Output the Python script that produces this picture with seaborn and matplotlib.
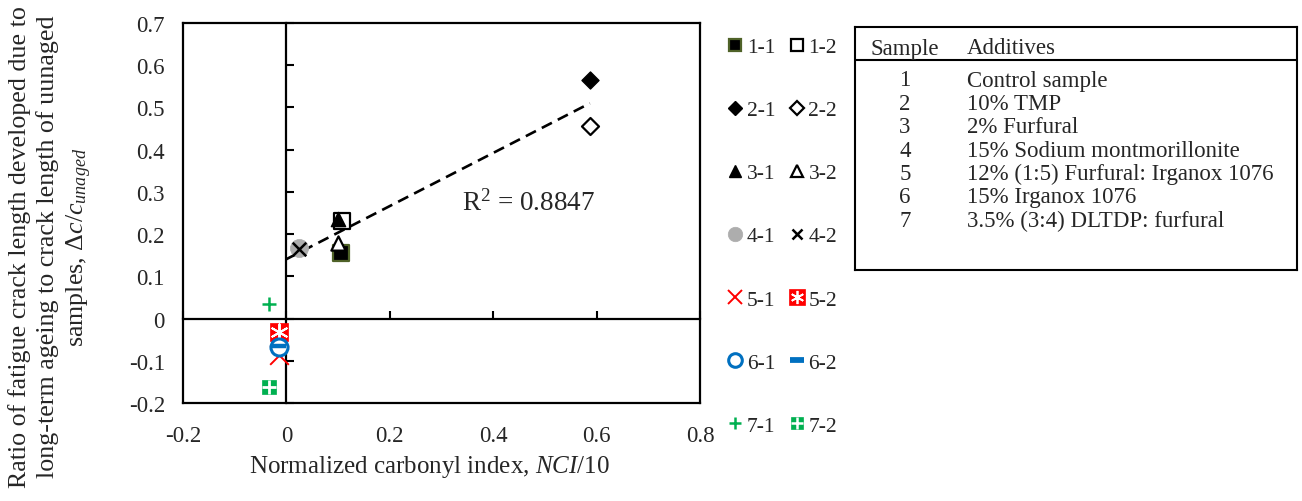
import numpy as np
import pandas as pd
import matplotlib
matplotlib.use("Agg")
import matplotlib.pyplot as plt
from matplotlib.lines import Line2D
from matplotlib.legend_handler import HandlerTuple
import seaborn as sns

# ---- data -------------------------------------------------------------
series = ["1-1", "2-1", "3-1", "4-1", "5-1", "6-1", "7-1",
          "1-2", "2-2", "3-2", "4-2", "5-2", "6-2", "7-2"]
nci = [0.106, 0.587, 0.099, 0.025, -0.015, -0.015, -0.033,
       0.108, 0.587, 0.100, 0.025, -0.015, -0.015, -0.033]
crack_ratio = [0.155, 0.566, 0.236, 0.167, -0.087, -0.068, 0.035,
               0.231, 0.457, 0.178, 0.165, -0.031, -0.064, -0.163]
r2_text = "R$^2$ = 0.8847"

sample_ids = ["1", "2", "3", "4", "5", "6", "7"]
additives = ["Control sample", "10% TMP", "2% Furfural",
             "15% Sodium montmorillonite",
             "12% (1:5) Furfural: Irganox 1076",
             "15% Irganox 1076", "3.5% (3:4) DLTDP: furfural"]

x_ticks = [-0.2, 0.0, 0.2, 0.4, 0.6, 0.8]
x_tick_labels = ["-0.2", "0", "0.2", "0.4", "0.6", "0.8"]
y_ticks = [-0.2, -0.1, 0.0, 0.1, 0.2, 0.3, 0.4, 0.5, 0.6, 0.7]
y_tick_labels = ["-0.2", "-0.1", "0", "0.1", "0.2", "0.3", "0.4",
                 "0.5", "0.6", "0.7"]

# ---- marker styles per series ----------------------------------------
BLACK, OLIVE, GREY = "black", "#4F6228", "#ADADAD"
RED, BLUE, GREEN = "#FF0000", "#0070C0", "#00B050"
styles = {
    "1-1": dict(marker="s", s=117, fc=BLACK, ec=OLIVE, lw=1.6),
    "1-2": dict(marker="s", s=117, fc="white", ec=BLACK, lw=1.6),
    "2-1": dict(marker="D", s=75, fc=BLACK, ec=BLACK, lw=1.0),
    "2-2": dict(marker="D", s=75, fc="white", ec=BLACK, lw=1.6),
    "3-1": dict(marker="^", s=105, fc=BLACK, ec=BLACK, lw=1.0),
    "3-2": dict(marker="^", s=105, fc="white", ec=BLACK, lw=1.6),
    "4-1": dict(marker="o", s=170, fc=GREY, ec=GREY, lw=0.5),
    "4-2": dict(marker="x", s=95, fc=BLACK, ec=None, lw=1.8),
    "5-1": dict(marker="x", s=180, fc=RED, ec=None, lw=1.4),
    "5-2": dict(marker="s", s=185, fc=RED, ec=RED, lw=0.5,
                over=dict(marker=(6, 2, 0), s=140, c="white", lw=1.4)),
    "6-1": dict(marker="o", s=150, fc="white", ec=BLUE, lw=2.2),
    "6-2": dict(marker="_", s=90, fc=BLUE, ec=None, lw=3.2),
    "7-1": dict(marker="+", s=115, fc=GREEN, ec=None, lw=1.8),
    "7-2": dict(marker="s", s=112, fc=GREEN, ec=GREEN, lw=0.5,
                over=dict(marker="+", s=100, c="white", lw=2.0)),
}
draw_order = ["1-1", "1-2", "2-1", "2-2", "3-1", "3-2", "4-1", "4-2",
              "5-1", "5-2", "6-1", "6-2", "7-1", "7-2"]

# ---- theme / fonts ----------------------------------------------------
sns.set_style("white")
plt.rcParams["font.family"] = ["Liberation Serif", "DejaVu Serif"]
plt.rcParams["mathtext.fontset"] = "custom"
plt.rcParams["mathtext.rm"] = "Liberation Serif"
plt.rcParams["mathtext.it"] = "Liberation Serif:italic"
plt.rcParams["axes.unicode_minus"] = False
FS_TICK = 16.5
FS_LEG = 15.5
FS_TAB = 16.5
FS_XLAB = 18
FS_YLAB = 18.7
FS_R2 = 19.5

df = pd.DataFrame({"series": series, "nci": nci, "ratio": crack_ratio})

W, H = 1302, 502
fig = plt.figure(figsize=(W / 100, H / 100), dpi=100)
ax = fig.add_axes([183 / W, 1 - 404 / H, 517 / W, 380 / H])

# scatter points
for z, name in enumerate(draw_order):
    st = styles[name]
    row = df[df.series == name]
    kw = dict(x=row.nci.values, y=row.ratio.values, ax=ax, marker=st["marker"],
              s=st["s"], linewidth=st["lw"], zorder=5 + z, legend=False)
    if st["ec"] is None:
        sns.scatterplot(color=st["fc"], **kw)
    else:
        sns.scatterplot(color=st["fc"], edgecolor=st["ec"], **kw)
    if "over" in st:
        ov = st["over"]
        sns.scatterplot(x=row.nci.values, y=row.ratio.values, ax=ax,
                        marker=ov["marker"], s=ov["s"], color=ov["c"],
                        linewidth=ov["lw"], zorder=5 + z + 0.5, legend=False)

# linear trend over the aged samples with positive NCI
pos = df[df.nci > 0]
slope, intercept = np.polyfit(pos.nci, pos.ratio, 1)
fit_x = np.array([0.0, pos.nci.max()])
sns.lineplot(x=fit_x, y=slope * fit_x + intercept, ax=ax, color="black",
             linewidth=1.9, zorder=4)
ax.lines[-1].set_dashes((4.3, 2.5))
ax.text(0.34, 0.276, r2_text, fontsize=FS_R2, va="center", ha="left")

# axes box and limits
ax.set_xlim(-0.2, 0.8)
ax.set_ylim(-0.2, 0.7)
for sp in ax.spines.values():
    sp.set_color("black")
    sp.set_linewidth(1.6)
ax.set_xticks(x_ticks)
ax.set_xticklabels(x_tick_labels, fontsize=FS_TICK)
ax.set_yticks(y_ticks)
ax.set_yticklabels(y_tick_labels, fontsize=FS_TICK)
ax.tick_params(axis="x", length=0, pad=16)
ax.tick_params(axis="y", length=0, pad=13)

# axes crossing at zero, with inward tick marks
sec_y = ax.secondary_yaxis(0.2 / 1.0)
sec_y.set_yticks(y_ticks)
sec_y.tick_params(direction="in", length=6, width=1.5, labelleft=False,
                  color="black")
sec_y.spines["left"].set_linewidth(1.6)
sec_y.spines["left"].set_color("black")
sec_x = ax.secondary_xaxis(0.2 / 0.9)
sec_x.set_xticks(x_ticks)
sec_x.tick_params(direction="in", length=6, width=1.5, labelbottom=False,
                  color="black")
sec_x.spines["bottom"].set_linewidth(1.6)
sec_x.spines["bottom"].set_color("black")

# axis titles
fig.text(429 / W, 1 - 467 / H, r"Normalized carbonyl index, $\mathit{NCI}$/10",
         fontsize=FS_XLAB, ha="center", va="center")
fig.text(51 / W, 1 - 247 / H,
         "Ratio of fatigue crack length developed due to\n"
         "long-term ageing to crack length of uunaged\n"
         r"samples, $\mathit{\Delta c/c}_{\mathit{unaged}}$",
         fontsize=FS_YLAB, rotation=90, ha="center", va="center",
         multialignment="center", linespacing=1.27)

# legend (two columns: x-1 samples, x-2 samples)
def handle(name):
    st = styles[name]
    ms = np.sqrt(st["s"]) * 0.8
    mew = st["lw"]
    if st["marker"] == "_":
        ms, mew = np.sqrt(st["s"]) * 1.0, st["lw"] * 1.3
    ec = st["fc"] if st["ec"] is None else st["ec"]
    base = Line2D([], [], linestyle="none", marker=st["marker"], markersize=ms,
                  markerfacecolor=st["fc"], markeredgecolor=ec,
                  markeredgewidth=mew)
    if "over" in st:
        ov = st["over"]
        top = Line2D([], [], linestyle="none", marker=ov["marker"],
                     markersize=np.sqrt(ov["s"]) * 0.8, markeredgecolor=ov["c"],
                     markerfacecolor=ov["c"], markeredgewidth=ov["lw"] * 0.9)
        return (base, top)
    return base

handles = [handle(n) for n in series]
fig.legend(handles, series, ncol=2, loc="upper left",
           bbox_to_anchor=(727 / W, 1 - 38 / H), frameon=False,
           fontsize=FS_LEG, handlelength=0.78, handletextpad=0.15,
           columnspacing=0.6, labelspacing=2.0, borderpad=0,
           borderaxespad=0, handler_map={tuple: HandlerTuple(ndivide=1)})

# additives table
tx0, ty0, tx1, ty1 = 855, 28, 1297, 271
tab = fig.add_axes([tx0 / W, 1 - ty1 / H, (tx1 - tx0) / W, (ty1 - ty0) / H])
tab.set_xlim(0, tx1 - tx0)
tab.set_ylim(ty1 - ty0, 0)
tab.set_xticks([])
tab.set_yticks([])
for sp in tab.spines.values():
    sp.set_visible(True)
    sp.set_color("black")
    sp.set_linewidth(1.5)
tab.axhline(33, color="black", linewidth=1.5)
tab.text(15, 21, "Sample", fontsize=FS_TAB, va="center", ha="left")
tab.text(112, 21, "Additives", fontsize=FS_TAB, va="center", ha="left")
for i, (sid, add) in enumerate(zip(sample_ids, additives)):
    yy = 53 + i * 23.4
    tab.text(50, yy, sid, fontsize=FS_TAB, va="center", ha="center")
    tab.text(112, yy, add, fontsize=FS_TAB, va="center", ha="left")

fig.savefig("out.png", dpi=100)
